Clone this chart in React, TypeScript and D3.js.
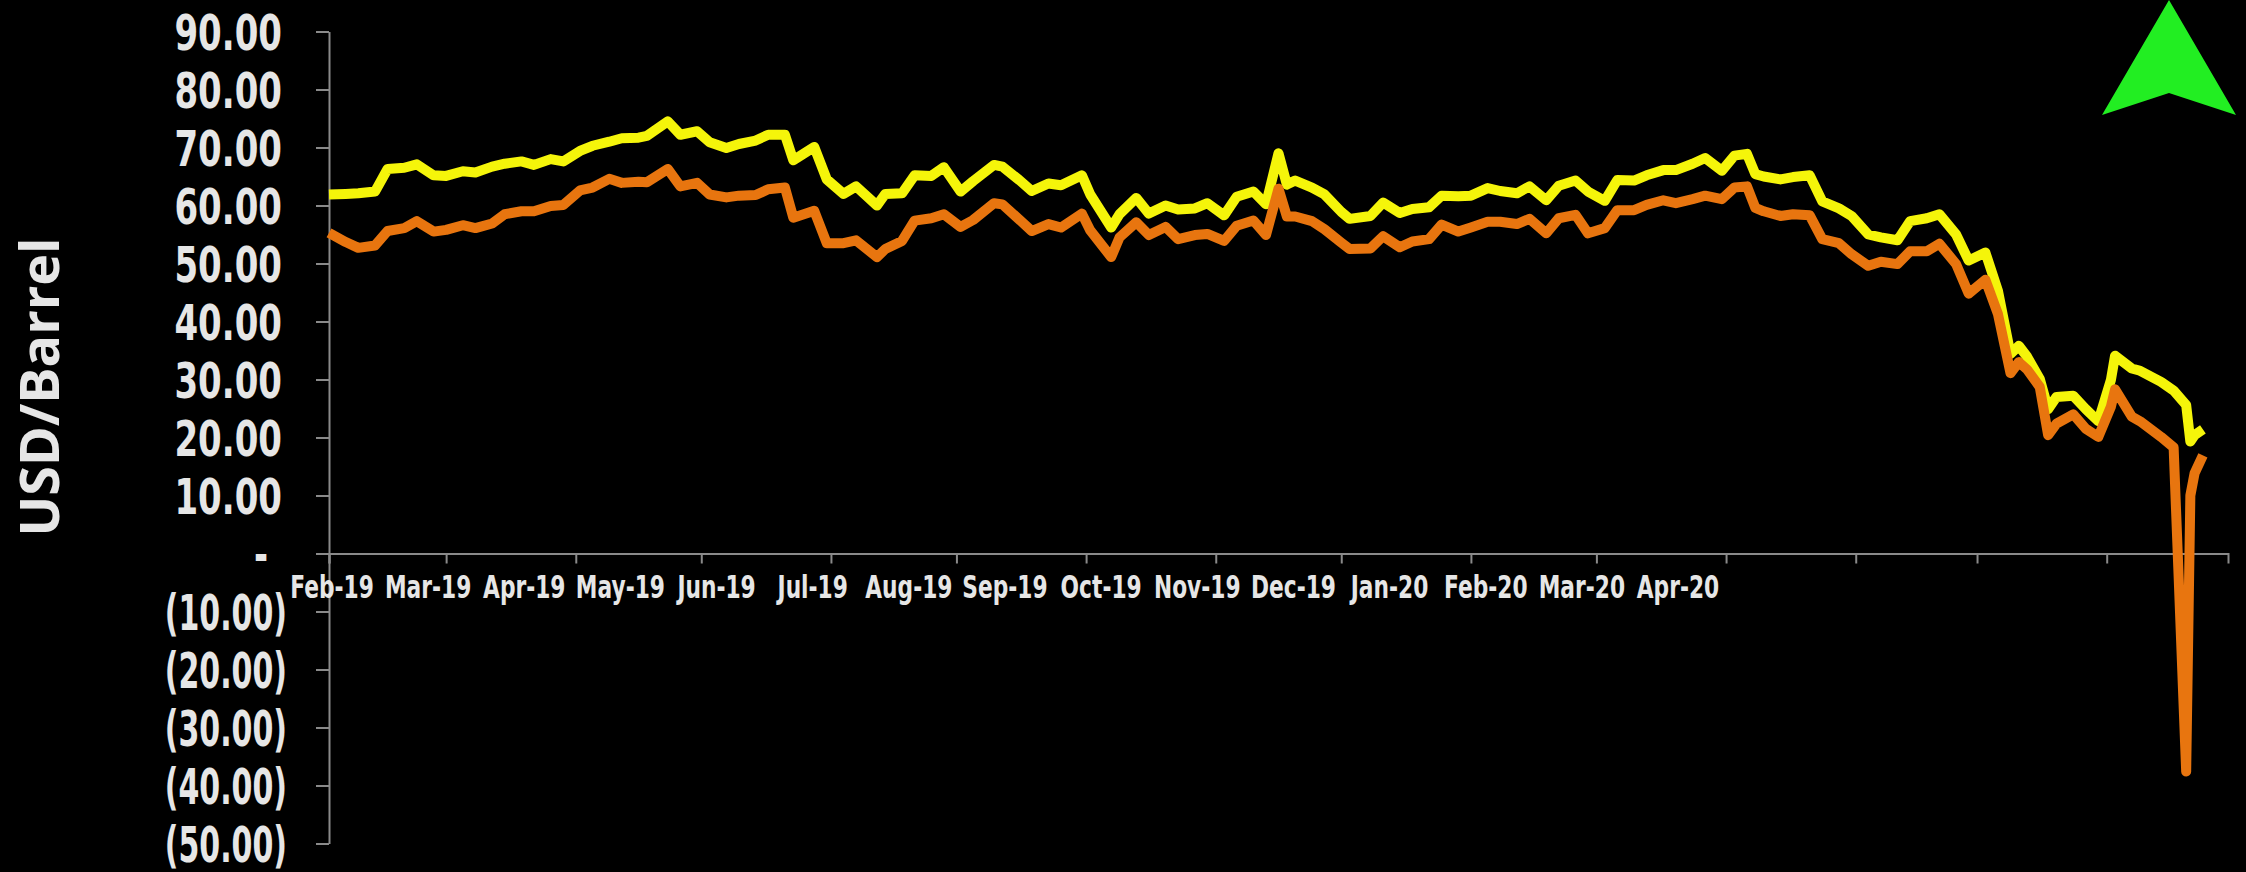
import React, { useEffect, useRef } from 'react';
import * as d3 from 'd3';

// dates shared by both series (trading days, sampled)
const dates = [
  '2019-02-01', '2019-02-05', '2019-02-08', '2019-02-12', '2019-02-15', '2019-02-19', '2019-02-22', '2019-02-26',
  '2019-03-01', '2019-03-05', '2019-03-08', '2019-03-12', '2019-03-15', '2019-03-19', '2019-03-22', '2019-03-26', '2019-03-29',
  '2019-04-02', '2019-04-05', '2019-04-09', '2019-04-12', '2019-04-16', '2019-04-18', '2019-04-23', '2019-04-26', '2019-04-30',
  '2019-05-03', '2019-05-07', '2019-05-10', '2019-05-14', '2019-05-17', '2019-05-21', '2019-05-23', '2019-05-28', '2019-05-31',
  '2019-06-04', '2019-06-07', '2019-06-12', '2019-06-14', '2019-06-18', '2019-06-21', '2019-06-25', '2019-06-28',
  '2019-07-02', '2019-07-05', '2019-07-10', '2019-07-12', '2019-07-16', '2019-07-19', '2019-07-23', '2019-07-26', '2019-07-31',
  '2019-08-02', '2019-08-07', '2019-08-09', '2019-08-13', '2019-08-16', '2019-08-20', '2019-08-23', '2019-08-27', '2019-08-30',
  '2019-09-03', '2019-09-06', '2019-09-10', '2019-09-13', '2019-09-16', '2019-09-18', '2019-09-20', '2019-09-24', '2019-09-27',
  '2019-10-01', '2019-10-03', '2019-10-08', '2019-10-11', '2019-10-15', '2019-10-18', '2019-10-22', '2019-10-25', '2019-10-29',
  '2019-11-01', '2019-11-05', '2019-11-08', '2019-11-12', '2019-11-15', '2019-11-19', '2019-11-22', '2019-11-26', '2019-11-29',
  '2019-12-03', '2019-12-06', '2019-12-10', '2019-12-13', '2019-12-17', '2019-12-20', '2019-12-24', '2019-12-27', '2019-12-31',
  '2020-01-03', '2020-01-06', '2020-01-08', '2020-01-10', '2020-01-14', '2020-01-17', '2020-01-21', '2020-01-24', '2020-01-28', '2020-01-31',
  '2020-02-04', '2020-02-07', '2020-02-11', '2020-02-14', '2020-02-18', '2020-02-21', '2020-02-25', '2020-02-28',
  '2020-03-03', '2020-03-06', '2020-03-09', '2020-03-11', '2020-03-13', '2020-03-16', '2020-03-18', '2020-03-20', '2020-03-24', '2020-03-27', '2020-03-30',
  '2020-04-02', '2020-04-03', '2020-04-07', '2020-04-09', '2020-04-14', '2020-04-17', '2020-04-20', '2020-04-21', '2020-04-22', '2020-04-24',
];

// yellow line
const brent = [
  61.9, 62.0, 62.1, 62.4, 66.3, 66.5, 67.1, 65.2,
  65.1, 65.9, 65.7, 66.7, 67.2, 67.6, 67.0, 68.0, 67.6,
  69.4, 70.3, 71.0, 71.6, 71.7, 72.0, 74.5, 72.2, 72.8,
  70.9, 69.9, 70.6, 71.2, 72.2, 72.2, 67.8, 70.1, 64.5,
  62.0, 63.3, 60.0, 62.0, 62.1, 65.2, 65.1, 66.6,
  62.4, 64.2, 67.0, 66.7, 64.4, 62.5, 63.8, 63.5, 65.2,
  61.9, 56.2, 58.5, 61.3, 58.6, 60.0, 59.3, 59.5, 60.4,
  58.3, 61.5, 62.4, 60.2, 69.0, 63.6, 64.3, 63.1, 61.9,
  58.9, 57.7, 58.2, 60.5, 58.7, 59.4, 59.7, 61.7, 61.6,
  61.7, 63.0, 62.5, 62.1, 63.3, 60.9, 63.4, 64.3, 62.4,
  60.8, 64.4, 64.3, 65.2, 66.1, 66.1, 67.2, 68.2, 66.0,
  68.6, 68.9, 65.4, 65.0, 64.5, 64.9, 65.2, 60.7, 59.5, 58.2,
  55.0, 54.5, 54.0, 57.3, 57.8, 58.5, 55.0, 50.5,
  51.9, 45.3, 34.4, 35.8, 33.9, 30.1, 24.9, 27.0, 27.2, 24.9, 22.8,
  29.9, 34.1, 31.9, 31.5, 29.6, 28.1, 25.6, 19.3, 20.4, 21.4,
];

// orange line
const wti = [
  55.3, 53.7, 52.7, 53.1, 55.6, 56.1, 57.3, 55.5,
  55.8, 56.6, 56.1, 56.9, 58.5, 59.0, 59.0, 59.9, 60.1,
  62.6, 63.1, 64.6, 63.9, 64.1, 64.0, 66.3, 63.3, 63.9,
  61.9, 61.4, 61.7, 61.8, 62.8, 63.1, 57.9, 59.1, 53.5,
  53.5, 54.0, 51.1, 52.5, 53.9, 57.4, 57.8, 58.5,
  56.3, 57.5, 60.4, 60.2, 57.6, 55.6, 56.8, 56.2, 58.6,
  55.7, 51.1, 54.5, 57.1, 54.9, 56.3, 54.2, 54.9, 55.1,
  53.9, 56.5, 57.4, 54.9, 62.9, 58.1, 58.1, 57.3, 55.9,
  53.6, 52.5, 52.6, 54.7, 52.8, 53.8, 54.2, 56.7, 55.5,
  56.2, 57.2, 57.2, 56.8, 57.7, 55.2, 57.8, 58.4, 55.2,
  56.1, 59.2, 59.2, 60.1, 60.9, 60.4, 61.1, 61.7, 61.1,
  63.1, 63.3, 59.6, 59.0, 58.2, 58.5, 58.3, 54.2, 53.5, 51.6,
  49.6, 50.3, 49.9, 52.1, 52.1, 53.4, 49.9, 44.8,
  47.2, 41.3, 31.1, 33.0, 31.7, 28.7, 20.4, 22.4, 24.0, 21.5, 20.1,
  25.3, 28.3, 23.6, 22.8, 20.1, 18.3, -37.6, 10.0, 13.8, 16.9,
];

const monthLabels = [
  'Feb-19', 'Mar-19', 'Apr-19', 'May-19', 'Jun-19', 'Jul-19', 'Aug-19', 'Sep-19',
  'Oct-19', 'Nov-19', 'Dec-19', 'Jan-20', 'Feb-20', 'Mar-20', 'Apr-20',
];

const yTicks = [90, 80, 70, 60, 50, 40, 30, 20, 10, 0, -10, -20, -30, -40, -50];

const W = 2246;
const H = 872;
const TEXT = '#e6e6e6';
const AXIS = '#8a8a8a';
const FONT = '"DejaVu Sans", sans-serif';
const SQUEEZE = 0.68; // the original labels use a narrow bold face

const fmt = (v: number) => (v === 0 ? '-' : v < 0 ? `(${(-v).toFixed(2)})` : v.toFixed(2));

export default function App() {
  const svgRef = useRef<SVGSVGElement>(null);

  useEffect(() => {
    if (!svgRef.current) return;
    document.body.style.margin = '0';
    document.body.style.background = '#000';

    const svg = d3.select(svgRef.current);
    svg.selectAll('*').remove();

    const parse = d3.timeParse('%Y-%m-%d');
    const x = d3.scaleTime()
      .domain([parse('2019-02-01') as Date, parse('2020-04-30') as Date])
      .range([329, 2228]);
    const y = d3.scaleLinear().domain([-50, 90]).range([843.5, 31.5]);

    // y axis line + ticks
    const yAxis = svg.append('g')
      .attr('transform', `translate(${x.range()[0]},0)`)
      .call(d3.axisLeft(y).tickValues(yTicks).tickSize(13).tickSizeOuter(0).tickFormat(() => ''));
    yAxis.select('.domain').attr('stroke', AXIS).attr('stroke-width', 2);
    yAxis.selectAll('.tick line').attr('stroke', AXIS).attr('stroke-width', 2);

    // y tick labels (accounting style)
    svg.append('g')
      .selectAll('text')
      .data(yTicks)
      .enter()
      .append('text')
      .attr('transform', (d) => {
        if (d > 0) return `translate(282,${y(d)}) scale(${SQUEEZE},1)`;
        if (d === 0) return `translate(268,${y(d)}) scale(${SQUEEZE},1)`;
        return `translate(287,${y(d)}) scale(0.6,1)`;
      })
      .attr('dy', '0.36em')
      .attr('text-anchor', 'end')
      .attr('fill', TEXT)
      .attr('font-family', FONT)
      .attr('font-weight', 'bold')
      .attr('font-size', 50)
      .text((d) => fmt(d));

    // x axis on the zero line, monthly ticks
    const xAxis = svg.append('g')
      .attr('transform', `translate(0,${y(0)})`)
      .call(d3.axisBottom(x).ticks(d3.timeMonth.every(1)).tickSize(10).tickSizeOuter(10).tickFormat(() => ''));
    xAxis.select('.domain').attr('stroke', AXIS).attr('stroke-width', 2);
    xAxis.selectAll('.tick line').attr('stroke', AXIS).attr('stroke-width', 2);

    // month labels
    const lx = d3.scalePoint<string>().domain(monthLabels).range([332, 1678]);
    svg.append('g')
      .selectAll('text')
      .data(monthLabels)
      .enter()
      .append('text')
      .attr('transform', (d) => `translate(${lx(d)},${y(0) + 33}) scale(${SQUEEZE},1)`)
      .attr('dy', '0.35em')
      .attr('text-anchor', 'middle')
      .attr('fill', TEXT)
      .attr('font-family', FONT)
      .attr('font-weight', 'bold')
      .attr('font-size', 32)
      .text((d) => d);

    // axis title
    svg.append('text')
      .attr('transform', 'translate(40,387) rotate(-90)')
      .attr('dy', '0.35em')
      .attr('text-anchor', 'middle')
      .attr('fill', TEXT)
      .attr('font-family', '"Open Sans", sans-serif')
      .attr('font-weight', 'bold')
      .attr('font-size', 54)
      .text('USD/Barrel');

    // lines
    const pts = (vals: number[]) => dates.map((d, i) => ({ date: parse(d) as Date, v: vals[i] }));
    const line = d3.line<{ date: Date; v: number }>()
      .x((d) => x(d.date))
      .y((d) => y(d.v));

    svg.append('path')
      .attr('d', line(pts(brent)))
      .attr('fill', 'none')
      .attr('stroke', '#f5f50a')
      .attr('stroke-width', 10)
      .attr('stroke-linejoin', 'round');

    svg.append('path')
      .attr('d', line(pts(wti)))
      .attr('fill', 'none')
      .attr('stroke', '#e8750f')
      .attr('stroke-width', 10)
      .attr('stroke-linejoin', 'round');

    // green up arrow in the corner
    svg.append('path')
      .attr('d', 'M2169,0 L2236,115 L2169,93 L2102,115 Z')
      .attr('fill', '#22ee22');
  }, []);

  return <svg ref={svgRef} width={W} height={H} style={{ display: 'block', background: '#000' }} />;
}
